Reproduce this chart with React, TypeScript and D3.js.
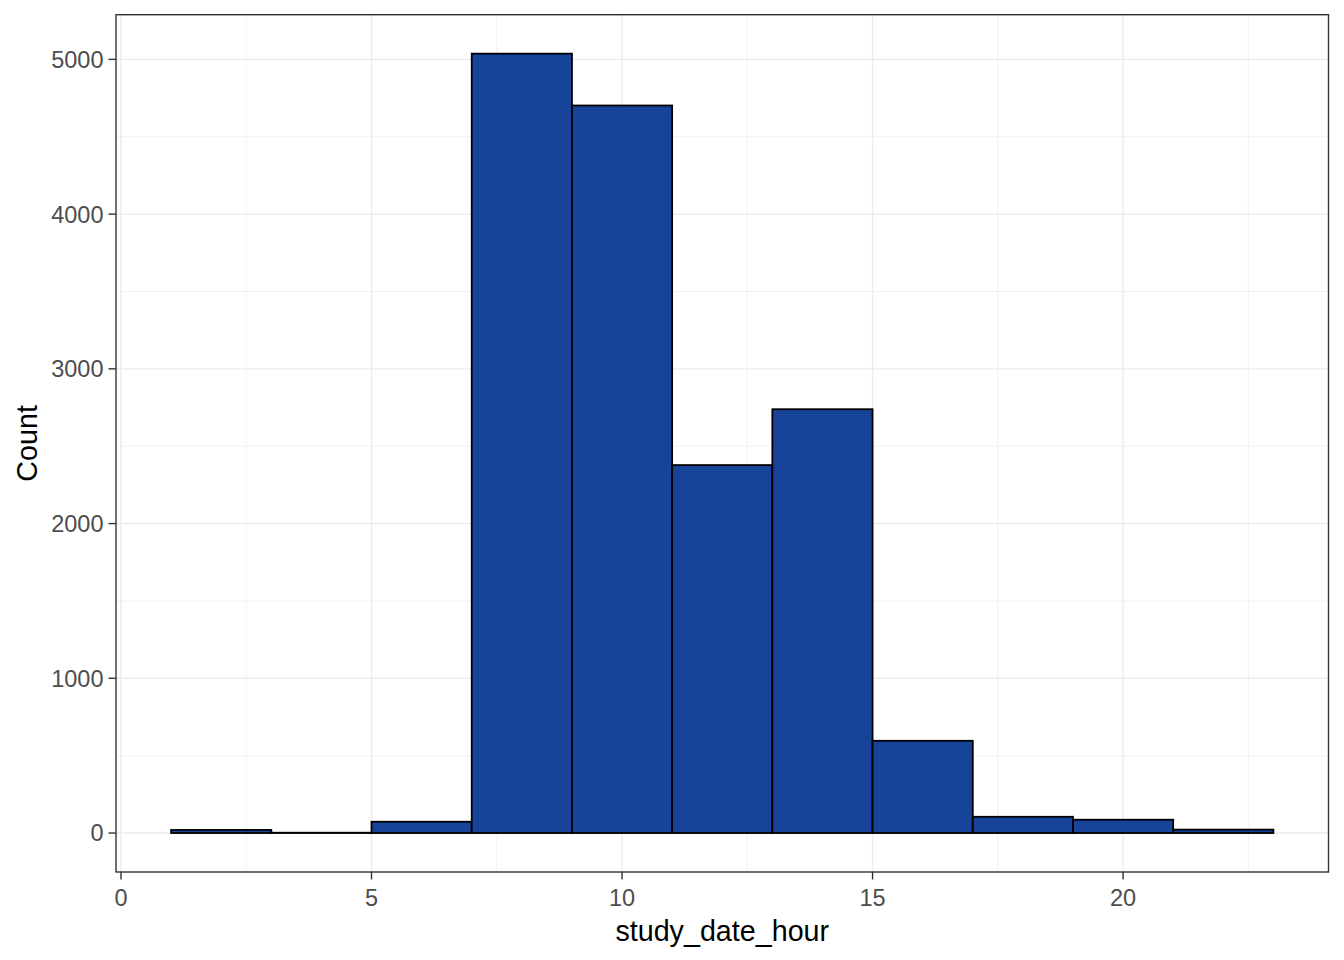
import React from "react";
import * as d3 from "d3";

const binStarts = [1, 3, 5, 7, 9, 11, 13, 15, 17, 19, 21];
const binWidth = 2;
const counts = [20, 2, 73, 5037, 4702, 2378, 2739, 596, 105, 86, 22];
const xTicks = [0, 5, 10, 15, 20];
const xMinor = [2.5, 7.5, 12.5, 17.5, 22.5];
const yTicks = [0, 1000, 2000, 3000, 4000, 5000];
const yMinor = [500, 1500, 2500, 3500, 4500];

const W = 1344, H = 960;
const pl = 116, pr = 1328.5, pt = 14.7, pb = 872;

export default function App() {
  const xmin = 1, xmax = 23;
  const xr = xmax - xmin;
  const x = d3.scaleLinear().domain([xmin - 0.05 * xr, xmax + 0.05 * xr]).range([pl, pr]);
  const ymax = d3.max(counts) as number;
  const y = d3.scaleLinear().domain([-0.05 * ymax, 1.05 * ymax]).range([pb, pt]);
  const font = "'Liberation Sans', Arial, sans-serif";
  return (
    <svg width={W} height={H} style={{ position: "absolute", left: 0, top: 0, background: "#fff" }}>
      <rect x={0} y={0} width={W} height={H} fill="#fff" />
      <clipPath id="panel"><rect x={pl} y={pt} width={pr - pl} height={pb - pt} /></clipPath>
      <g clipPath="url(#panel)">
        {yMinor.map((v) => (
          <line key={"ym" + v} x1={pl} x2={pr} y1={y(v)} y2={y(v)} stroke="#EBEBEB" strokeWidth={0.7} />
        ))}
        {xMinor.map((v) => (
          <line key={"xm" + v} y1={pt} y2={pb} x1={x(v)} x2={x(v)} stroke="#EBEBEB" strokeWidth={0.7} />
        ))}
        {yTicks.map((v) => (
          <line key={"yg" + v} x1={pl} x2={pr} y1={y(v)} y2={y(v)} stroke="#EBEBEB" strokeWidth={1.4} />
        ))}
        {xTicks.map((v) => (
          <line key={"xg" + v} y1={pt} y2={pb} x1={x(v)} x2={x(v)} stroke="#EBEBEB" strokeWidth={1.4} />
        ))}
        {binStarts.map((s, i) => (
          <rect
            key={"b" + i}
            x={x(s)}
            y={y(counts[i])}
            width={x(s + binWidth) - x(s)}
            height={y(0) - y(counts[i])}
            fill="#17439A"
            stroke="#000"
            strokeWidth={1.8}
          />
        ))}
      </g>
      <rect x={pl} y={pt} width={pr - pl} height={pb - pt} fill="none" stroke="#333333" strokeWidth={1.4} />
      {yTicks.map((v) => (
        <g key={"yt" + v}>
          <line x1={pl - 7.5} x2={pl} y1={y(v)} y2={y(v)} stroke="#333333" strokeWidth={1.4} />
          <text x={pl - 12.5} y={y(v)} dy="0.36em" textAnchor="end" fontFamily={font} fontSize={23.5} fill="#4D4D4D">
            {v}
          </text>
        </g>
      ))}
      {xTicks.map((v) => (
        <g key={"xt" + v}>
          <line x1={x(v)} x2={x(v)} y1={pb} y2={pb + 7.5} stroke="#333333" strokeWidth={1.4} />
          <text x={x(v)} y={906} textAnchor="middle" fontFamily={font} fontSize={23.5} fill="#4D4D4D">
            {v}
          </text>
        </g>
      ))}
      <text x={(pl + pr) / 2} y={940.5} textAnchor="middle" fontFamily={font} fontSize={28.7} fill="#000">
        study_date_hour
      </text>
      <text
        transform={`translate(36.5,${(pt + pb) / 2}) rotate(-90)`}
        textAnchor="middle"
        fontFamily={font}
        fontSize={28.7}
        fill="#000"
      >
        Count
      </text>
    </svg>
  );
}
